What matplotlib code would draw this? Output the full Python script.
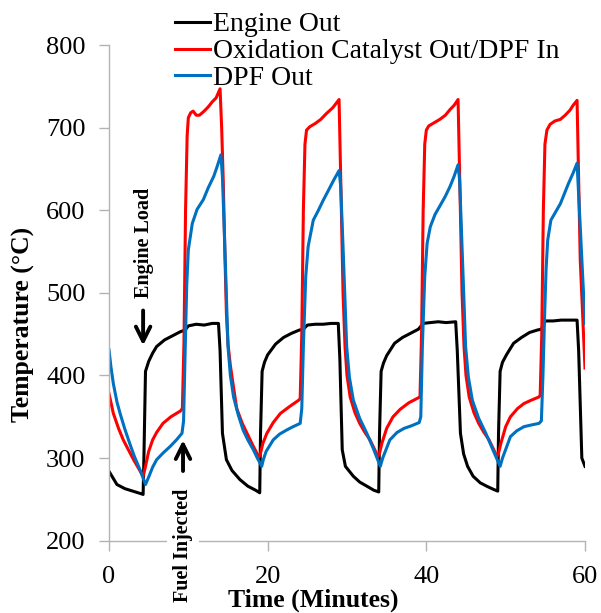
import numpy as np
import matplotlib
matplotlib.use('Agg')
import matplotlib.pyplot as plt

plt.rcParams['font.family'] = ['Liberation Serif', 'DejaVu Serif']

# Engine Out (black)
eng_t = [0, 0.5, 1, 2, 3, 4, 4.3, 4.4, 4.6, 5.0, 5.5, 6.0, 7.0, 8.0, 9.0, 9.6, 10.0, 11, 12, 13,
         13.8, 14.0, 14.3, 14.8, 15.5, 16.5, 17.5, 18.5, 19.0, 19.1, 19.3, 19.6, 20, 21, 22, 23,
         24, 24.5, 25, 26, 27, 28, 28.9, 29.1, 29.4, 29.8, 30.8, 31.6, 32.5, 33.4, 34.0, 34.1,
         34.3, 34.6, 35, 36, 37, 38, 39, 39.6, 40.5, 41.5, 42.5, 43.7, 43.9, 44.3, 44.7, 45.2,
         45.9, 46.8, 47.6, 48.5, 49.0, 49.1, 49.3, 49.6, 50.1, 51, 52, 53, 54, 54.5, 55, 56,
         57, 58, 59.0, 59.2, 59.6, 60]
eng_T = [284, 276, 268, 263, 260, 257, 256, 300, 405, 417, 427, 435, 443, 448, 453, 455, 460, 462, 461, 463,
         463, 430, 330, 298, 285, 274, 266, 261, 258, 330, 405, 416, 425, 438, 446, 451,
         455, 456, 461, 462, 462, 463, 463, 420, 310, 290, 278, 271, 266, 261, 259, 330,
         405, 415, 424, 439, 446, 451, 456, 463, 464, 465, 464, 465, 430, 330, 305, 290,
         278, 270, 266, 262, 260, 330, 405, 416, 425, 439, 446, 452, 455, 456, 466, 466,
         467, 467, 467, 430, 300, 290]

# Oxidation Catalyst Out / DPF In (red)
red_t = [0, 0.55, 1.2, 1.8, 2.5, 3.1, 3.7, 4.3, 4.6, 5.0, 5.5, 6.0, 6.8, 7.8, 9.0, 9.25,
         9.45, 9.65, 9.85, 10.0, 10.3, 10.6, 11.0, 11.4, 12.0, 12.5, 13.0, 13.5, 14.0, 14.2, 14.4, 14.6,
         14.8, 15.0, 15.3, 15.6, 16.1, 16.8, 17.4, 18.1, 18.9, 19.1, 19.4, 19.9, 20.7, 21.6, 22.7, 23.9,
         24.1, 24.3, 24.5, 24.7, 24.9, 25.3, 26.0, 26.7, 27.4, 28.2, 29.0, 29.3, 29.5, 29.75, 30.0, 30.4,
         31.0, 31.6, 32.2, 32.9, 33.9, 34.1, 34.4, 35.0, 35.8, 36.7, 37.8, 39.0, 39.2, 39.4, 39.6, 39.8,
         40.0, 40.3, 41.0, 41.7, 42.4, 43.0, 43.5, 44.0, 44.3, 44.5, 44.75, 45.0, 45.4, 46.0, 46.6, 47.2,
         47.9, 48.9, 49.1, 49.4, 50.0, 50.6, 51.5, 52.3, 53.2, 54.2, 54.35, 54.55, 54.75, 54.95, 55.2, 55.6,
         56.2, 56.9, 57.5, 58.1, 58.5, 59.0, 59.4, 60.0]
red_T = [378, 354, 336, 322, 309, 298, 288, 278, 290, 308, 322, 331, 342, 350, 357, 360,
         440, 600, 690, 712, 718, 720, 715, 715, 720, 725, 731, 736, 747, 700, 636, 550,
         475, 438, 412, 392, 360, 342, 330, 316, 301, 306, 318, 330, 343, 354, 362, 370,
         372, 450, 600, 680, 697, 701, 705, 710, 717, 724, 734, 596, 500, 435, 400, 374,
         355, 342, 332, 322, 302, 306, 318, 336, 350, 359, 367, 373, 374, 450, 600, 680,
         697, 702, 706, 710, 715, 722, 727, 734, 596, 500, 435, 400, 374, 355, 342, 332,
         322, 302, 306, 318, 338, 350, 360, 366, 370, 374, 376, 450, 600, 680, 697, 704,
         708, 710, 715, 721, 727, 733, 540, 409]

# DPF Out (blue)
dpf_t = [0, 0.25, 0.55, 1.0, 1.4, 2.0, 2.6, 3.2, 3.9, 4.6, 5.0, 5.5, 6.0, 6.8, 7.7, 8.5,
         9.2, 9.4, 9.6, 9.8, 10.0, 10.5, 11.1, 11.9, 12.5, 13.2, 13.6, 14.1, 14.3, 14.6, 15.0, 15.3,
         15.7, 16.3, 16.9, 17.5, 18.2, 18.7, 19.25, 19.45, 19.8, 20.7, 21.5, 22.4, 23.2, 24.1, 24.3, 24.5,
         24.8, 25.1, 25.75, 26.4, 27.0, 27.6, 28.3, 29.0, 29.2, 29.5, 29.96, 30.3, 30.8, 31.6, 32.5, 33.3,
         34.2, 34.5, 35.4, 36.3, 37.2, 38.1, 39.1, 39.3, 39.5, 39.8, 40.1, 40.5, 41.1, 41.7, 42.4, 43.0,
         43.5, 44.0, 44.2, 44.5, 44.95, 45.3, 45.8, 46.6, 47.5, 48.3, 49.3, 49.6, 50.6, 51.4, 52.3, 53.2,
         54.2, 54.5, 54.7, 54.9, 55.1, 55.3, 55.7, 56.3, 56.9, 57.4, 57.9, 58.5, 59.0, 59.4, 60.0]
dpf_T = [431, 410, 390, 368, 354, 335, 318, 302, 286, 268, 277, 289, 298, 306, 314, 322,
         330, 345, 430, 510, 552, 584, 601, 613, 627, 641, 652, 667, 640, 556, 435, 400,
         374, 352, 334, 322, 310, 300, 290, 298, 308, 322, 329, 334, 338, 342, 360, 435,
         520, 556, 588, 600, 612, 623, 636, 648, 630, 556, 435, 398, 370, 348, 330, 312,
         290, 300, 322, 331, 336, 339, 343, 350, 435, 520, 560, 580, 595, 605, 617, 629,
         641, 655, 636, 556, 435, 398, 370, 348, 330, 312, 290, 300, 326, 333, 338, 340,
         342, 345, 400, 470, 530, 564, 588, 598, 608, 620, 632, 645, 657, 580, 463]

series_labels = ['Engine Out', 'Oxidation Catalyst Out/DPF In', 'DPF Out']
x_ticks = [0, 20, 40, 60]
y_ticks = [200, 300, 400, 500, 600, 700, 800]

fig = plt.figure(figsize=(6.01, 6.13), dpi=100)
ax = fig.add_axes([109 / 601, 1 - 540.7 / 613, 476 / 601, 495.7 / 613])

ax.plot(eng_t, eng_T, color='black', lw=2.2, label=series_labels[0])
ax.plot(red_t, red_T, color='#ff0000', lw=2.2, label=series_labels[1])
ax.plot(dpf_t, dpf_T, color='#0070c0', lw=2.2, label=series_labels[2])

ax.set_xlim(0, 60)
ax.set_ylim(200, 800)
ax.set_xticks(x_ticks)
ax.set_yticks(y_ticks)

for side in ['top', 'right']:
    ax.spines[side].set_visible(False)
for side in ['left', 'bottom']:
    ax.spines[side].set_color('#b3b3b3')
    ax.spines[side].set_linewidth(1.0)
ax.tick_params(axis='both', colors='#b3b3b3', labelcolor='black', labelsize=19,
               length=7, width=1.0, direction='out')
ax.tick_params(axis='y', pad=10)
ax.tick_params(axis='x', pad=11)

ax.set_ylabel('Temperature (°C)', fontsize=18.5, fontweight='bold')
ax.set_xlabel('Time (Minutes)', fontsize=18.5, fontweight='bold')
ax.yaxis.set_label_coords(-0.155, 0.437)
ax.xaxis.set_label_coords(0.43, -0.097)

# annotations
ax.annotate('', xy=(4.3, 433), xytext=(4.3, 482),
            arrowprops=dict(arrowstyle='->', lw=2.8, color='black', mutation_scale=26))
ax.text(4.45, 561, 'Engine Load', rotation=90, ha='center', va='center',
        fontsize=14.5, fontweight='bold')

ax.annotate('', xy=(9.33, 325), xytext=(9.33, 281),
            arrowprops=dict(arrowstyle='->', lw=2.8, color='black', mutation_scale=26))
ax.text(9.33, 195, 'Fuel Injected', rotation=90, ha='center', va='center',
        fontsize=14.5, fontweight='bold', clip_on=False, zorder=5,
        bbox=dict(facecolor='white', edgecolor='none', pad=4))

fig.legend(loc='upper left', bbox_to_anchor=(175 / 601, 1 - 12 / 613), frameon=False,
           fontsize=20, borderpad=0, borderaxespad=0, handlelength=1.25,
           handletextpad=0.12, labelspacing=0.05)

fig.savefig('out.png', dpi=100)
